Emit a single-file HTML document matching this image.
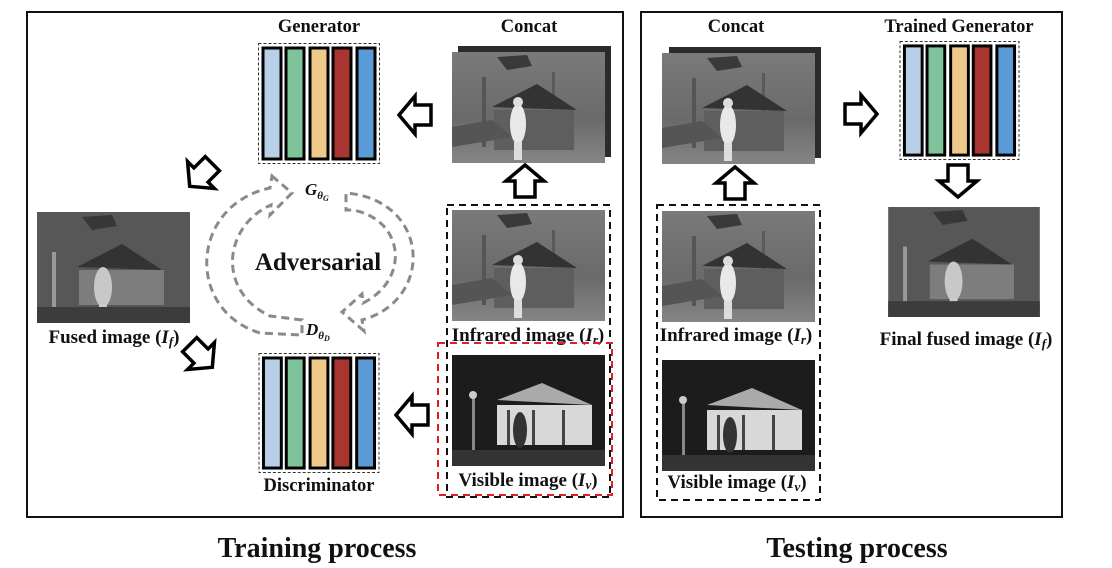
<!DOCTYPE html>
<html><head><meta charset="utf-8"><style>
html,body{margin:0;padding:0;background:#fff;}
svg{display:block}
text{font-family:"Liberation Serif",serif;font-weight:bold;fill:#111}
</style></head><body>
<svg width="1112" height="568" viewBox="0 0 1112 568" xmlns="http://www.w3.org/2000/svg">
<defs>
<linearGradient id="irg" x1="0" y1="0" x2="0" y2="1"><stop offset="0" stop-color="#7a7a7a"/><stop offset="0.6" stop-color="#6a6a6a"/><stop offset="1" stop-color="#858585"/></linearGradient>
<symbol id="ir" viewBox="0 0 153 111">
<rect width="153" height="111" fill="url(#irg)"/>
<path d="M45 5 L75 3 L80 14 L55 18 Z" fill="#2a2a2a" opacity="0.8"/>
<rect x="30" y="25" width="4" height="70" fill="#555"/><rect x="100" y="20" width="3" height="70" fill="#5a5a5a"/>
<path d="M40 55 L85 32 L125 58 Z" fill="#333"/>
<rect x="42" y="58" width="80" height="40" fill="#5e5e5e"/>
<path d="M0 75 L40 68 L60 85 L0 95 Z" fill="#555"/>
<ellipse cx="66" cy="72" rx="8" ry="20" fill="#e8e8e8"/><circle cx="66" cy="50" r="5" fill="#ddd"/>
<rect x="62" y="90" width="8" height="18" fill="#ddd"/>
</symbol>
<symbol id="vis" viewBox="0 0 153 111">
<rect width="153" height="111" fill="#1c1c1c"/>
<path d="M45 45 L90 28 L140 50 Z" fill="#aaa"/>
<rect x="45" y="50" width="95" height="40" fill="#d8d8d8"/>
<rect x="55" y="55" width="3" height="35" fill="#444"/><rect x="80" y="55" width="3" height="35" fill="#444"/><rect x="110" y="55" width="3" height="35" fill="#444"/>
<rect x="20" y="40" width="3" height="60" fill="#888"/><circle cx="21" cy="40" r="4" fill="#ccc"/>
<ellipse cx="68" cy="75" rx="7" ry="18" fill="#333"/>
<rect x="0" y="95" width="153" height="16" fill="#333"/>
</symbol>
<symbol id="fus" viewBox="0 0 153 111">
<rect width="153" height="111" fill="#575757"/>
<path d="M45 5 L75 3 L80 14 L55 18 Z" fill="#2a2a2a" opacity="0.7"/>
<path d="M40 55 L85 32 L125 58 Z" fill="#333"/>
<rect x="42" y="58" width="85" height="35" fill="#7d7d7d"/>
<rect x="15" y="40" width="4" height="60" fill="#999"/>
<ellipse cx="66" cy="75" rx="9" ry="20" fill="#c8c8c8"/>
<rect x="62" y="92" width="8" height="18" fill="#ccc"/>
<rect x="0" y="95" width="153" height="16" fill="#3c3c3c"/>
</symbol>
<symbol id="net" viewBox="0 0 122 121">
<rect x="0.5" y="0.5" width="121" height="120" fill="#fff" stroke="#333" stroke-dasharray="3,2"/>
<g stroke="#000" stroke-width="3">
<rect x="5" y="5" width="18" height="111" fill="#b8cfe8"/>
<rect x="28" y="5" width="18" height="111" fill="#7fc39a"/>
<rect x="52" y="5" width="18" height="111" fill="#efc98a"/>
<rect x="75" y="5" width="18" height="111" fill="#a83530"/>
<rect x="99" y="5" width="18" height="111" fill="#5a9ad6"/>
</g>
</symbol>
<symbol id="arr" viewBox="0 0 36 44" overflow="visible">
<path d="M2 22 L18 3 L18 12 L34 12 L34 32 L18 32 L18 41 Z" fill="#fff" stroke="#000" stroke-width="3.5" stroke-linejoin="miter"/>
</symbol>
</defs>

<rect x="27" y="12" width="596" height="505" fill="none" stroke="#111" stroke-width="2"/>
<rect x="641" y="12" width="421" height="505" fill="none" stroke="#111" stroke-width="2"/>

<!-- Training -->
<text x="319" y="32" font-size="18.5" text-anchor="middle">Generator</text>
<use href="#net" x="258" y="43" width="122" height="121"/>
<text x="529" y="32" font-size="18.5" text-anchor="middle">Concat</text>
<rect x="458" y="46" width="153" height="111" fill="#2b2b2b"/>
<use href="#ir" x="452" y="52" width="153" height="111"/>
<use href="#arr" x="397" y="93" width="36" height="44"/>
<use href="#arr" x="507" y="159" width="36" height="44" transform="rotate(90 525 181)"/>
<rect x="447" y="205" width="163" height="292" fill="none" stroke="#111" stroke-width="2" stroke-dasharray="7,5"/>
<use href="#ir" x="452" y="210" width="153" height="111"/>
<text x="528" y="341" font-size="19" text-anchor="middle">Infrared image (<tspan font-style="italic">I<tspan font-size="13" dy="3">r</tspan></tspan><tspan dy="-3">)</tspan></text>
<rect x="438" y="343" width="174" height="152" fill="none" stroke="#e02020" stroke-width="2" stroke-dasharray="7,5"/>
<use href="#vis" x="452" y="355" width="153" height="111"/>
<text x="528" y="486" font-size="19" text-anchor="middle">Visible image (<tspan font-style="italic">I<tspan font-size="13" dy="3">v</tspan></tspan><tspan dy="-3">)</tspan></text>
<use href="#net" x="258" y="353" width="122" height="120"/>
<text x="319" y="491" font-size="18.5" text-anchor="middle">Discriminator</text>
<use href="#arr" x="394" y="393" width="36" height="44"/>

<use href="#fus" x="37" y="212" width="153" height="111"/>
<text x="114" y="343" font-size="19" text-anchor="middle">Fused image (<tspan font-style="italic">I<tspan font-size="13" dy="3">f</tspan></tspan><tspan dy="-3">)</tspan></text>
<use href="#arr" x="183" y="153" width="36" height="44" transform="rotate(-45 201 175)"/>
<use href="#arr" x="183" y="334" width="36" height="44" transform="rotate(-135 201 356)"/>

<!-- adversarial arrows -->
<g fill="none" stroke="#8a8a8a" stroke-width="3" stroke-dasharray="8,5">
<path d="M272 176 L292 193 L270 215 L271 205 C225 225 215 290 270 316 L302 320 L302 335 L260 333 C185 310 190 205 270 188 Z"/>
<path d="M364 331 L342 312 L362 294 L363 303 C410 280 405 220 353 210 L346 210 L346 193 C430 200 435 300 362 320 Z"/>
</g>
<text x="318" y="270" font-size="25" text-anchor="middle">Adversarial</text>
<text x="305" y="195" font-size="17" font-style="italic">G<tspan font-size="11" dy="4">θ</tspan><tspan font-size="8" dy="2">G</tspan></text>
<text x="306" y="335" font-size="17" font-style="italic">D<tspan font-size="11" dy="4">θ</tspan><tspan font-size="8" dy="2">D</tspan></text>

<!-- Testing -->
<text x="736" y="32" font-size="18.5" text-anchor="middle">Concat</text>
<rect x="669" y="47" width="152" height="111" fill="#2b2b2b"/>
<use href="#ir" x="662" y="53" width="153" height="111"/>
<use href="#arr" x="717" y="161" width="36" height="44" transform="rotate(90 735 183)"/>
<rect x="657" y="205" width="163" height="295" fill="none" stroke="#111" stroke-width="2" stroke-dasharray="7,5"/>
<use href="#ir" x="662" y="211" width="153" height="111"/>
<text x="736" y="341" font-size="19" text-anchor="middle">Infrared image (<tspan font-style="italic">I<tspan font-size="13" dy="3">r</tspan></tspan><tspan dy="-3">)</tspan></text>
<use href="#vis" x="662" y="360" width="153" height="111"/>
<text x="737" y="488" font-size="19" text-anchor="middle">Visible image (<tspan font-style="italic">I<tspan font-size="13" dy="3">v</tspan></tspan><tspan dy="-3">)</tspan></text>
<text x="959" y="32" font-size="18.5" text-anchor="middle">Trained Generator</text>
<use href="#net" x="898" y="41" width="123" height="119"/>
<use href="#arr" x="843" y="92" width="36" height="44" transform="rotate(180 861 114)"/>
<use href="#arr" x="940" y="159" width="36" height="44" transform="rotate(-90 958 181)"/>
<use href="#fus" x="888" y="207" width="152" height="110"/>
<text x="966" y="345" font-size="19" text-anchor="middle">Final fused image (<tspan font-style="italic">I<tspan font-size="13" dy="3">f</tspan></tspan><tspan dy="-3">)</tspan></text>

<text x="317" y="557" font-size="28" text-anchor="middle">Training process</text>
<text x="857" y="557" font-size="28" text-anchor="middle">Testing process</text>
</svg>
</body></html>
